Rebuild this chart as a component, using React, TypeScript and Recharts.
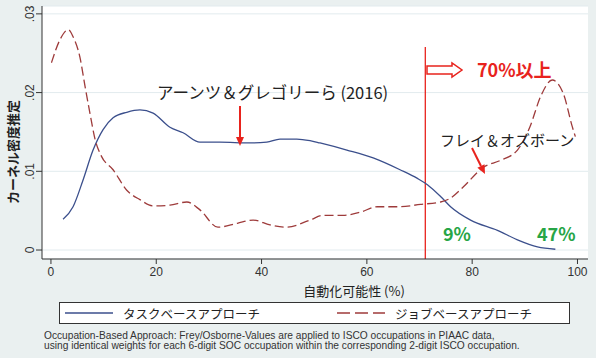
import React from 'react';
import {
  LineChart,
  Line,
  XAxis,
  YAxis,
  CartesianGrid,
  ReferenceLine,
} from 'recharts';

// 自動化可能性 (%) on x, kernel density on y
const taskX = [2.3, 4.2, 6.1, 8.0, 9.9, 11.8, 14.4, 16.9, 19.4, 22.6, 25.1, 28.3, 32.1, 37.8, 41, 43.5, 46.7, 49.2, 51.1, 56.2, 61.2, 66.3, 69.6, 71.5, 74, 75.9, 79.7, 84.8, 88.6, 92.4, 95.8];
const taskDensity = [0.0039, 0.0055, 0.0089, 0.0127, 0.0153, 0.0168, 0.0175, 0.0178, 0.0174, 0.0156, 0.0149, 0.0137, 0.0137, 0.0136, 0.0137, 0.0141, 0.0141, 0.0139, 0.0136, 0.0127, 0.0117, 0.0102, 0.0091, 0.0083, 0.0068, 0.0055, 0.0038, 0.0025, 0.0013, 0.0004, 0.0001];

const jobX = [0.1, 1.7, 3.3, 4.2, 5.5, 6.5, 7.4, 8.4, 9.6, 11.8, 14.4, 16.9, 19.4, 22.6, 25.8, 28.3, 31.7, 35.4, 38.4, 41.6, 44.8, 49.2, 51.7, 55.5, 58.7, 62, 66.3, 70.2, 74, 75.9, 78.3, 82.1, 85.4, 88.6, 91, 93, 95.2, 97.3, 99, 99.6];
const jobDensity = [0.0238, 0.0267, 0.028, 0.0271, 0.0245, 0.0207, 0.0174, 0.014, 0.0119, 0.0102, 0.0076, 0.0064, 0.0056, 0.0057, 0.0061, 0.0051, 0.0029, 0.0034, 0.0038, 0.0032, 0.0029, 0.0038, 0.0044, 0.0044, 0.0048, 0.0055, 0.0055, 0.0058, 0.0061, 0.0066, 0.008, 0.0105, 0.0114, 0.0127, 0.0157, 0.0195, 0.0216, 0.0199, 0.0157, 0.0144];

const xTicks = [0, 20, 40, 60, 80, 100];
const yTicks = [0, 0.01, 0.02, 0.03];
const threshold = 71.1;

const taskData = taskX.map((x, i) => ({ x, y: taskDensity[i] }));
const jobData = jobX.map((x, i) => ({ x, y: jobDensity[i] }));

const series = [
  { key: 'task', name: 'タスクベースアプローチ', data: taskData, color: '#3b4f8c', dash: undefined },
  { key: 'job', name: 'ジョブベースアプローチ', data: jobData, color: '#9e3b3b', dash: '9 4' },
];

const JP = '"Noto Sans CJK JP", sans-serif';
const LAT = '"Liberation Sans", Arial, sans-serif';
const RED = '#e8231d';
const GREEN = '#27a546';

const fmtY = (v: number) => (v === 0 ? '0' : v.toFixed(2).replace(/^0/, ''));

const YTick = (props: any) => {
  const { x, y, payload } = props;
  return (
    <text
      x={x}
      y={y}
      transform={`rotate(-90 ${x} ${y})`}
      textAnchor="middle"
      fontSize={12}
      fontFamily={LAT}
      fill="#333"
    >
      {fmtY(payload.value)}
    </text>
  );
};

const Arrow = ({ x1, y1, x2, y2 }: { x1: number; y1: number; x2: number; y2: number }) => {
  const a = Math.atan2(y2 - y1, x2 - x1);
  const L = 9;
  const W = 4;
  const bx = x2 - L * Math.cos(a);
  const by = y2 - L * Math.sin(a);
  const px = -Math.sin(a) * W;
  const py = Math.cos(a) * W;
  return (
    <g>
      <line x1={x1} y1={y1} x2={bx} y2={by} stroke={RED} strokeWidth={2} />
      <polygon points={`${x2},${y2} ${bx + px},${by + py} ${bx - px},${by - py}`} fill={RED} />
    </g>
  );
};

export default function App() {
  return (
    <div
      style={{
        position: 'absolute',
        left: 0,
        top: 0,
        width: 596,
        height: 358,
        background: '#eaf0f0',
        overflow: 'hidden',
      }}
    >
      <LineChart
        width={596}
        height={358}
        margin={{ top: 6, right: 8, bottom: 69, left: 0 }}
      >
        <CartesianGrid vertical={false} stroke="#e2ebee" fill="#ffffff" />
        <XAxis
          type="number"
          dataKey="x"
          domain={[-1.7, 102]}
          allowDataOverflow
          ticks={xTicks}
          height={30}
          tickSize={5}
          tickMargin={3}
          stroke="#333"
          tick={{ fontSize: 12, fontFamily: LAT, fill: '#333' }}
        />
        <YAxis
          type="number"
          domain={[-0.00114, 0.031]}
          allowDataOverflow
          ticks={yTicks}
          width={42}
          tickSize={6}
          tickMargin={2}
          stroke="#333"
          tick={<YTick />}
        />
        <ReferenceLine
          segment={[
            { x: threshold, y: 0.0258 },
            { x: threshold, y: -0.00114 },
          ]}
          stroke={RED}
          strokeWidth={1.3}
          ifOverflow="visible"
        />
        {series.map((s) => (
          <Line
            key={s.key}
            data={s.data}
            dataKey="y"
            name={s.name}
            type="monotone"
            stroke={s.color}
            strokeWidth={1.3}
            strokeDasharray={s.dash}
            dot={false}
            isAnimationActive={false}
          />
        ))}
      </LineChart>

      <svg
        width={596}
        height={358}
        style={{ position: 'absolute', left: 0, top: 0, pointerEvents: 'none' }}
      >
        <text
          x={18}
          y={152}
          transform="rotate(-90 18 152)"
          textAnchor="middle"
          fontSize={13}
          fontWeight="bold"
          fontFamily={JP}
          fill="#222"
        >
          カーネル密度推定
        </text>
        <text x={354} y={296} textAnchor="middle" fontSize={13} fontFamily={JP} fill="#222">
          自動化可能性 (%)
        </text>
        <text x={157} y={99} fontSize={16.5} fontFamily={JP} fill="#222">
          アーンツ＆グレゴリーら (2016)
        </text>
        <Arrow x1={240} y1={106} x2={240} y2={146} />
        <polygon
          points="427,66 452,66 452,63 462,70 452,77 452,74 427,74"
          fill="#fff"
          stroke={RED}
          strokeWidth={1.5}
        />
        <text x={477} y={77} fontSize={18} fontWeight="bold" fontFamily={JP} fill={RED}>
          70%以上
        </text>
        <text x={440} y={146} fontSize={15} fontFamily={JP} fill="#222">
          フレイ＆オズボーン
        </text>
        <Arrow x1={472} y1={148} x2={485} y2={174} />
        <text x={443} y={241} fontSize={18} fontWeight="bold" fontFamily={JP} fill={GREEN}>
          9%
        </text>
        <text x={537} y={241} fontSize={18} fontWeight="bold" fontFamily={JP} fill={GREEN}>
          47%
        </text>
      </svg>

      <div
        style={{
          position: 'absolute',
          left: 59,
          top: 302,
          width: 509,
          height: 20,
          border: '1px solid #333',
          background: '#fff',
          fontFamily: JP,
          fontSize: 12.5,
          color: '#222',
        }}
      >
        {series.map((s, i) => (
          <div
            key={s.key}
            style={{
              position: 'absolute',
              left: i === 0 ? 5 : 277,
              top: 0,
              height: 20,
              display: 'flex',
              alignItems: 'center',
            }}
          >
            <svg width={48} height={4} style={{ marginRight: 10 }}>
              <line
                x1={0}
                y1={2}
                x2={48}
                y2={2}
                stroke={s.color}
                strokeWidth={1.3}
                strokeDasharray={s.dash ? '13 5' : undefined}
              />
            </svg>
            <span>{s.name}</span>
          </div>
        ))}
      </div>

      <div
        style={{
          position: 'absolute',
          left: 44,
          top: 331,
          fontFamily: LAT,
          fontSize: 10.2,
          lineHeight: '10px',
          color: '#333',
          whiteSpace: 'nowrap',
        }}
      >
        <div>Occupation-Based Approach: Frey/Osborne-Values are applied to ISCO occupations in PIAAC data,</div>
        <div>using identical weights for each 6-digit SOC occupation within the corresponding 2-digit ISCO occupation.</div>
      </div>
    </div>
  );
}
